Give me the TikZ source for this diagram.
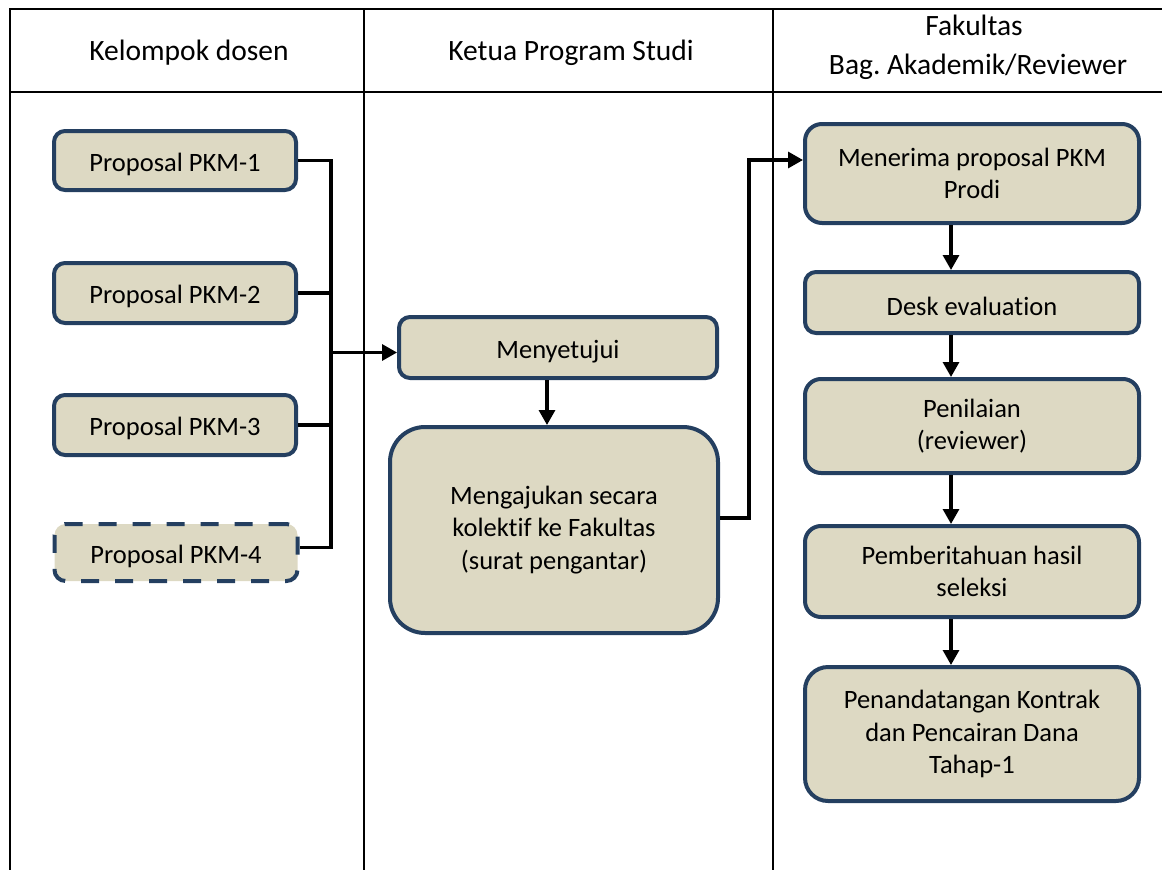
\documentclass[tikz,border=0pt]{standalone}
\usepackage{fontspec}
\setmainfont{Carlito}[Ligatures=NoCommon]
\usetikzlibrary{arrows.meta}
\definecolor{boxfill}{RGB}{221,217,195}
\definecolor{boxline}{RGB}{36,63,96}
\frenchspacing
\begin{document}
\begin{tikzpicture}[x=1pt,y=-1pt,
  grid/.style={line width=2.2pt},
  box/.style={draw=boxline, fill=boxfill, line width=4pt, align=center, inner sep=0pt,
    font=\fontsize{26.5}{32.5}\selectfont, execute at begin node={\rule{0pt}{26pt}}},
  dashbox/.style={box, dash pattern=on 18pt off 16pt},
  conn/.style={line width=3.2pt},
  arr/.style={conn, -{Triangle[length=15pt,width=16pt]}},
  hdr/.style={font=\fontsize{29.5}{38}\selectfont, align=center, inner sep=0pt, anchor=base}]
\useasboundingbox (0,0) rectangle (1162,870);
% table
\draw[grid] (1162,9) -- (10,9) -- (10,870);
\draw[grid] (10,92) -- (1162,92);
\draw[grid] (364,9) -- (364,870);
\draw[grid] (773,9) -- (773,870);
\node[hdr] (h1) at (189,60) {Kelompok dosen};
\node[hdr] (h2) at (571,60) {Ketua Program Studi};
\node[hdr] (h3a) at (974,35.7) {Fakultas};
\node[hdr] (h3b) at (978,74) {Bag. Akademik/Reviewer};
% column 1
\node[box, rounded corners=11pt, minimum width=242pt, minimum height=59pt] (p1) at (175,160.5) {Proposal PKM-1};
\node[box, rounded corners=11pt, minimum width=242pt, minimum height=60pt] (p2) at (175,293) {Proposal PKM-2};
\node[box, rounded corners=11pt, minimum width=242pt, minimum height=60pt] (p3) at (175,425) {Proposal PKM-3};
\node[dashbox, rounded corners=11pt, minimum width=243pt, minimum height=57pt] (p4) at (176,552.5) {Proposal PKM-4};
% column 2
\node[box, rounded corners=11pt, minimum width=318pt, minimum height=61pt] (m1) at (558,347.5) {Menyetujui};
\node[box, rounded corners=35pt, minimum width=328pt, minimum height=206pt] (m2) at (554,530) {Mengajukan secara\\kolektif ke Fakultas\\(surat pengantar)};
% column 3
\node[box, rounded corners=17pt, minimum width=334pt, minimum height=99pt] (r1) at (972,173.5) {Menerima proposal PKM\\Prodi};
\node[box, rounded corners=11pt, minimum width=334pt, minimum height=61pt] (r2) at (972,302.5) {Desk evaluation};
\node[box, rounded corners=16pt, minimum width=334pt, minimum height=94pt] (r3) at (972,426) {Penilaian\\(reviewer)};
\node[box, rounded corners=16pt, minimum width=334pt, minimum height=91pt] (r4) at (972,571.5) {Pemberitahuan hasil\\seleksi};
\node[box, rounded corners=23pt, minimum width=334pt, minimum height=134pt] (r5) at (972,734) {Penandatangan Kontrak\\dan Pencairan Dana\\Tahap-1};
% connectors column 1 -> 2
\coordinate (jx) at (331,0);
\draw[conn] (p1.east) -- (p1.east -| jx) -- ([yshift=5pt]p4.east -| jx) -- ([yshift=5pt]p4.east);
\draw[conn] (p2.east) -- (p2.east -| jx);
\draw[conn] (p3.east) -- (p3.east -| jx);
\coordinate (j) at (331,352.5);
\draw[arr] (j) -- (j -| m1.west);
% column 2
\coordinate (ax1) at (547,0);
\draw[arr] (m1.south -| ax1) -- (m2.north -| ax1);
\coordinate (ex) at (749,518);
\coordinate (ey) at (749,160);
\draw[arr] (m2.east |- ex) -- (ex) -- (ey) -- (ey -| r1.west);
% column 3
\coordinate (ax2) at (951,0);
\draw[arr] (r1.south -| ax2) -- (r2.north -| ax2);
\draw[arr] (r2.south -| ax2) -- (r3.north -| ax2);
\draw[arr] (r3.south -| ax2) -- (r4.north -| ax2);
\draw[arr] (r4.south -| ax2) -- (r5.north -| ax2);
\end{tikzpicture}
\end{document}
